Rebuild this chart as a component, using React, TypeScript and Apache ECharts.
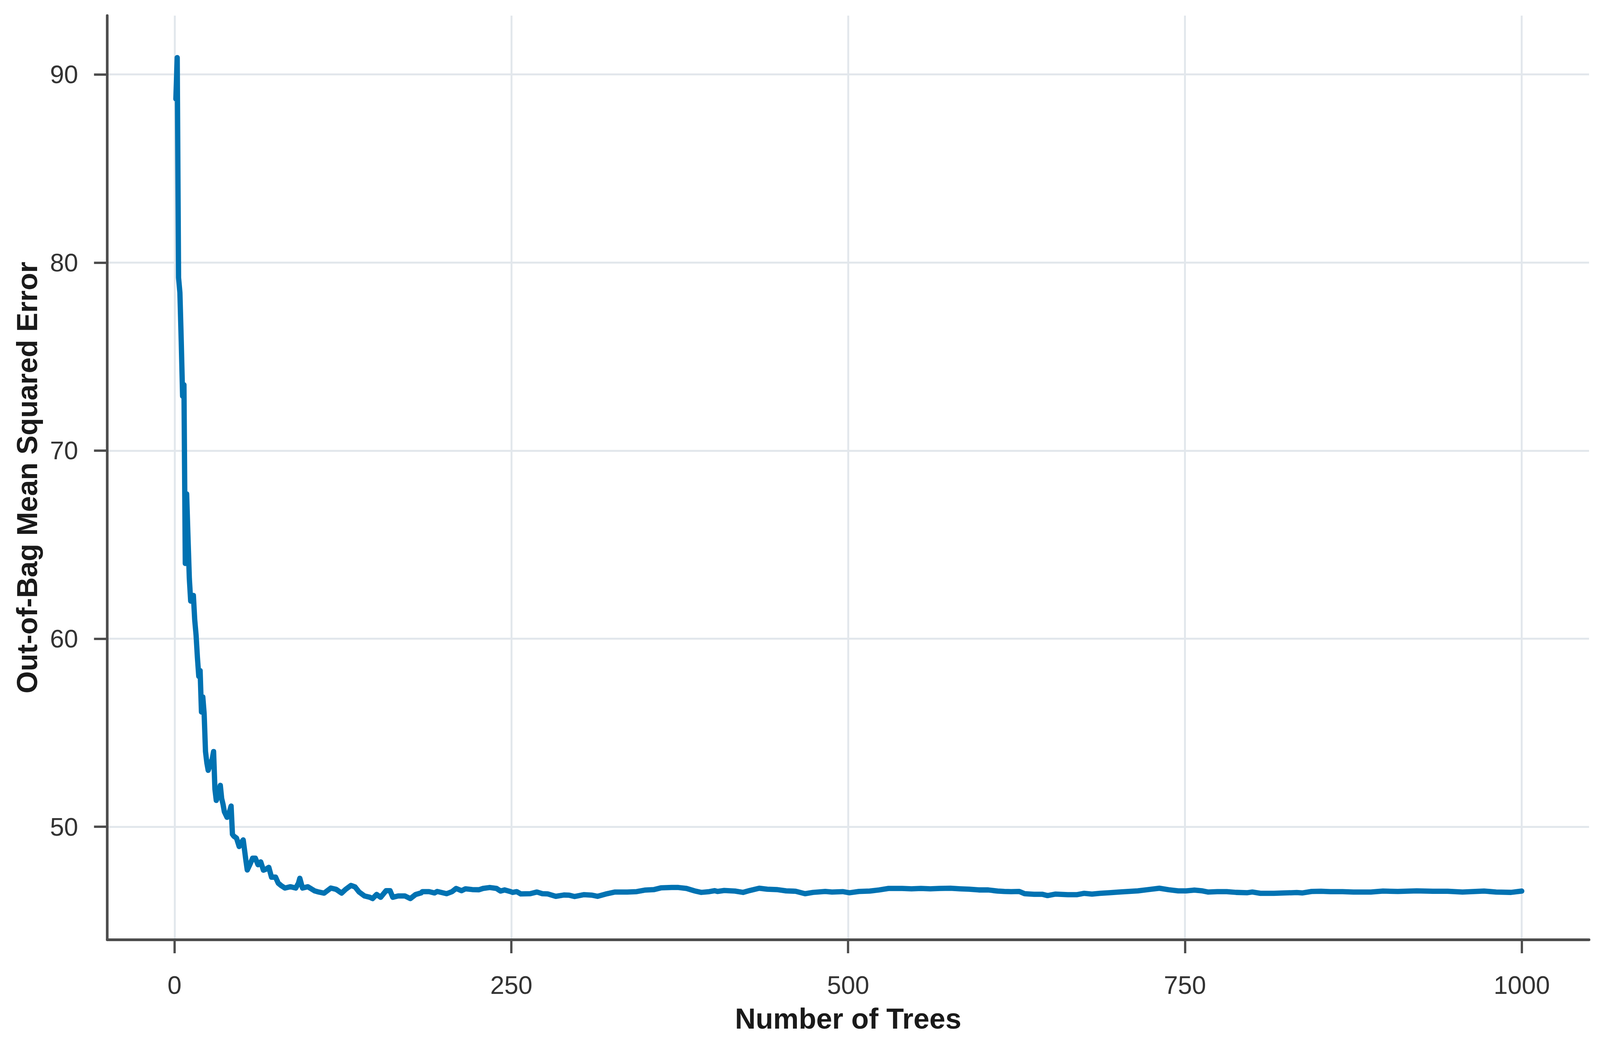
import React, { useEffect, useRef } from "react";
import * as echarts from "echarts";

// Number of trees (x) and out-of-bag MSE (y)
const trees: number[] = [
  1, 2, 3, 4, 5, 6, 7, 8, 9, 10, 11, 12, 14, 15, 16, 17, 18, 19, 20, 21, 22, 23, 24, 25, 26, 28, 29, 30,
  31, 32, 34, 35, 36, 37, 39, 40, 42, 43, 44, 46, 48, 49, 51, 53, 54, 56, 58, 60, 62, 64, 66, 68, 70,
  72, 75, 77, 79, 82, 86, 90, 92, 93, 95, 99, 104, 107, 111, 116, 120, 124, 127, 131, 134, 137, 141,
  145, 147, 150, 153, 157, 160, 162, 166, 171, 175, 179,
  183, 184, 189, 193, 195, 202, 206, 209, 213, 216, 221, 226, 229, 234, 239, 242, 245, 249, 251, 254,
  257, 264, 269, 273, 277, 283, 289, 293, 297, 304, 310, 314, 320, 327, 336, 343, 349, 356, 361, 369,
  374, 380, 386, 391, 397, 401,
  403, 408, 416, 422, 427, 434, 440, 447, 454, 461, 468, 474, 483, 488, 496, 501, 508, 516, 523, 530,
  540, 547, 554, 561, 568, 576, 583, 590, 597, 604, 611,
  616, 621, 627, 631, 638, 644, 648, 654, 663, 670, 675, 681, 687, 694, 701, 708, 715, 723, 731, 738,
  745, 751, 757, 763, 767, 774, 781, 788, 796, 800, 806, 816, 824, 833,
  837, 844, 851, 858, 867, 875, 888, 897, 908, 922, 934, 945, 956, 972, 981, 992, 1000,
];

const oobMse: number[] = [
  88.7, 90.9, 79.2, 78.4, 75.8, 72.9, 73.5, 64.0, 67.7, 65.4, 63.2, 62.0, 62.3, 61.0, 60.2, 59.0, 58.0,
  58.3, 56.1, 56.9, 56.0, 54.0, 53.4, 53.0, 53.2, 53.6, 54.0, 52.0,
  51.4, 51.6, 52.2, 51.5, 51.2, 50.8, 50.5, 50.6, 51.1, 49.6, 49.5, 49.4, 48.95, 49.1, 49.3, 48.2,
  47.7, 48.0, 48.33, 48.33, 47.98, 48.13, 47.69, 47.75, 47.84,
  47.32, 47.32, 47.0, 46.88, 46.74, 46.81, 46.74, 47.0, 47.26, 46.74, 46.81, 46.59, 46.53, 46.47,
  46.74, 46.67, 46.47, 46.67, 46.88, 46.8, 46.53, 46.32,
  46.25, 46.18, 46.4, 46.25, 46.6, 46.6, 46.25, 46.32, 46.32, 46.18, 46.4,
  46.48, 46.55, 46.55, 46.48, 46.56, 46.44, 46.55, 46.72, 46.6, 46.7, 46.66, 46.65, 46.72, 46.77,
  46.72, 46.58, 46.64, 46.56, 46.51, 46.55,
  46.43, 46.44, 46.53, 46.44, 46.43, 46.3, 46.37, 46.36, 46.29, 46.39, 46.36, 46.3, 46.42, 46.53,
  46.53, 46.55, 46.63, 46.66, 46.75, 46.77,
  46.77, 46.72, 46.59, 46.51, 46.55, 46.6,
  46.56, 46.61, 46.58, 46.51, 46.61, 46.73, 46.68, 46.66, 46.59, 46.57, 46.44, 46.51, 46.56, 46.53,
  46.55, 46.49, 46.56, 46.58, 46.64, 46.72,
  46.72, 46.7, 46.72, 46.7, 46.72, 46.73, 46.7, 46.68, 46.64, 46.64, 46.58,
  46.56, 46.55, 46.56, 46.44, 46.41, 46.41, 46.34, 46.42, 46.39, 46.39, 46.46, 46.42, 46.46, 46.49,
  46.53, 46.56, 46.59, 46.66, 46.73, 46.65,
  46.59, 46.59, 46.63, 46.59, 46.53, 46.55, 46.55, 46.51, 46.49, 46.53, 46.46, 46.46, 46.48, 46.5,
  46.48, 46.56, 46.57, 46.55, 46.55, 46.53, 46.53, 46.58, 46.56, 46.59, 46.57, 46.57, 46.53, 46.58,
  46.53, 46.51, 46.58,
];

const xTicks: number[] = [0, 250, 500, 750, 1000];
const yTicks: number[] = [50, 60, 70, 80, 90];

const FONT = "'Liberation Sans', Arial, Helvetica, sans-serif";
const REF_W = 4238;
const REF_H = 2658;

export default function App() {
  const ref = useRef<HTMLDivElement>(null);

  useEffect(() => {
    const el = ref.current;
    if (!el) return;
    const W = el.clientWidth || window.innerWidth || REF_W;
    const H = el.clientHeight || window.innerHeight || REF_H;
    const sx = W / REF_W;
    const sy = H / REF_H;
    const s = Math.min(sx, sy);
    const chart = echarts.init(el, null, { renderer: "svg", width: W, height: H });
    const points = trees.map((t, i) => [t, oobMse[i]]);
    const axisColor = "#4d4d4d";
    const gridColor = "#e2e7ec";
    chart.setOption({
      animation: false,
      backgroundColor: "#ffffff",
      grid: { left: 284 * sx, top: 40 * sy, right: 29 * sx, bottom: 252 * sy, containLabel: false },
      xAxis: {
        type: "value",
        min: -49.95,
        max: 1049.95,
        name: "Number of Trees",
        nameLocation: "middle",
        nameGap: 166 * sy,
        nameTextStyle: { fontFamily: FONT, fontSize: 76 * s, fontWeight: "bold", color: "#1a1a1a" },
        axisLine: { show: true, onZero: false, lineStyle: { color: axisColor, width: 7 * s } },
        axisTick: { show: true, length: 35 * sy, lineStyle: { color: axisColor, width: 6 * s }, customValues: xTicks },
        axisLabel: {
          fontFamily: FONT,
          fontSize: 67 * s,
          color: "#333333",
          margin: 84 * sy,
          customValues: xTicks,
          formatter: (v: number) => String(v),
        },
        splitLine: { show: true, lineStyle: { color: gridColor, width: 5 * s } },
      },
      yAxis: {
        type: "value",
        min: 44.0,
        max: 93.13,
        name: "Out-of-Bag Mean Squared Error",
        nameLocation: "middle",
        nameGap: 174 * sx,
        nameTextStyle: { fontFamily: FONT, fontSize: 76 * s, fontWeight: "bold", color: "#1a1a1a" },
        axisLine: { show: true, onZero: false, lineStyle: { color: axisColor, width: 7 * s } },
        axisTick: { show: true, length: 35 * sx, lineStyle: { color: axisColor, width: 6 * s }, customValues: yTicks },
        axisLabel: {
          fontFamily: FONT,
          fontSize: 67 * s,
          color: "#333333",
          margin: 77 * sx,
          customValues: yTicks,
          formatter: (v: number) => String(v),
        },
        splitLine: { show: true, lineStyle: { color: gridColor, width: 5 * s } },
      },
      series: [
        {
          type: "line",
          data: points,
          showSymbol: false,
          symbol: "none",
          lineStyle: { color: "#0072B2", width: 14 * s, cap: "round", join: "round" },
          clip: false,
        },
      ],
    });
    return () => chart.dispose();
  }, []);

  return (
    <div
      ref={ref}
      style={{ position: "fixed", left: 0, top: 0, width: "100vw", height: "100vh", background: "#fff" }}
    />
  );
}
